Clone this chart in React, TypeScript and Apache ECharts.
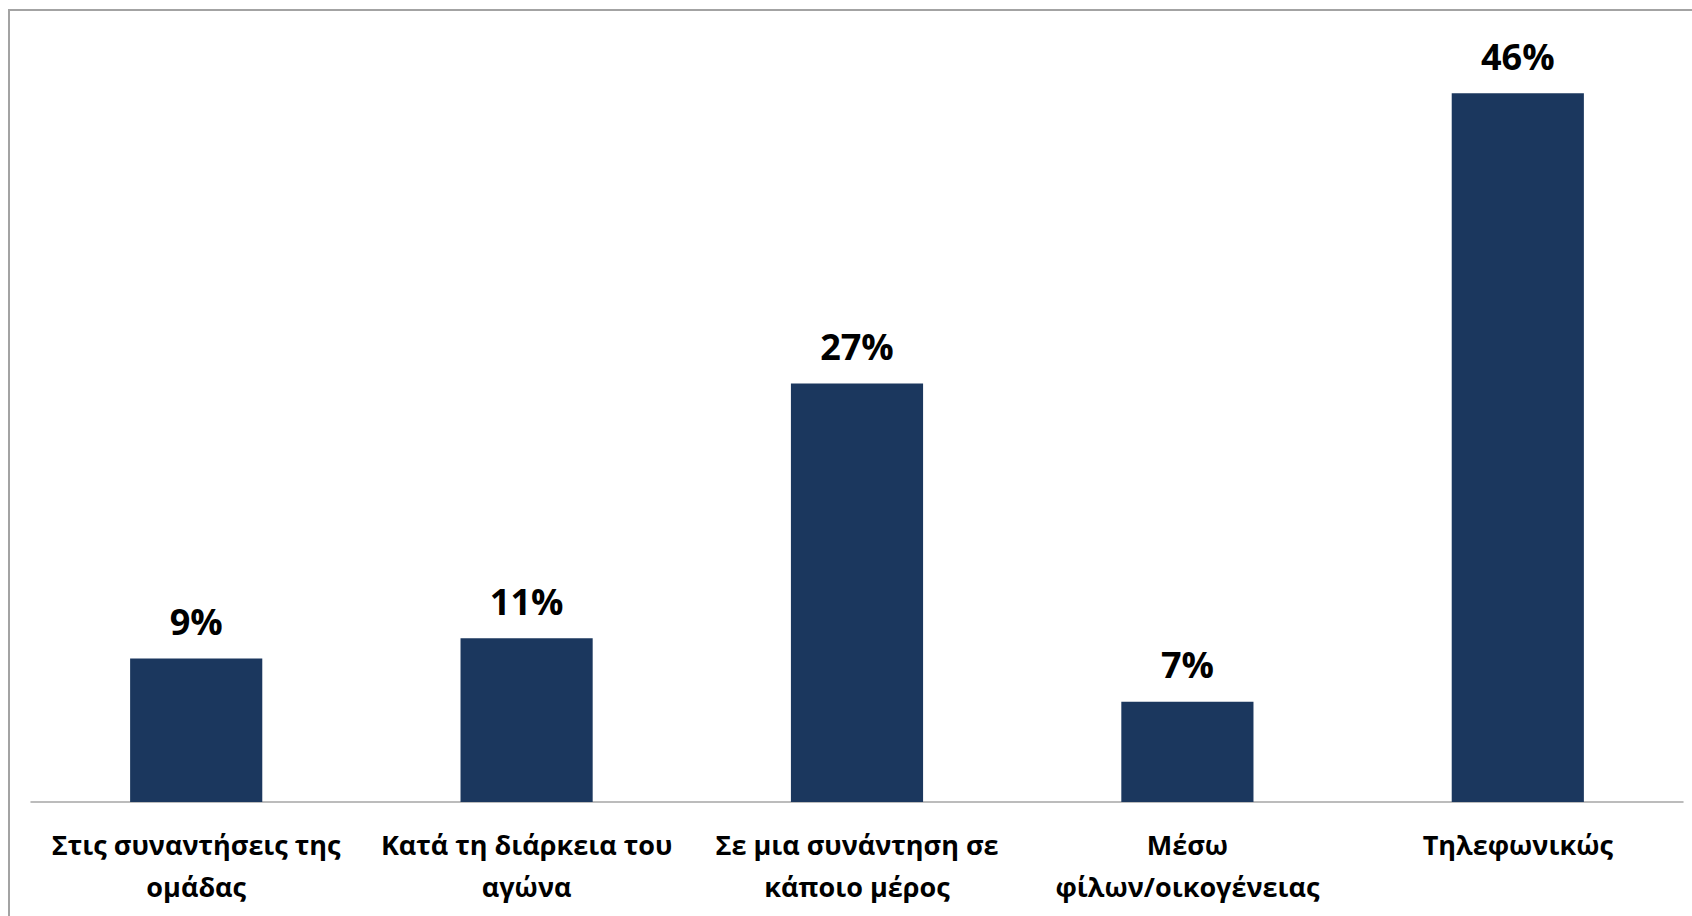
import React, { useEffect, useRef } from "react";
import * as echarts from "echarts";

const categories: string[] = [
  "Στις συναντήσεις της\nομάδας",
  "Κατά τη διάρκεια του\nαγώνα",
  "Σε μια συνάντηση σε\nκάποιο μέρος",
  "Μέσω\nφίλων/οικογένειας",
  "Τηλεφωνικώς",
];
const values: number[] = [9.3, 10.6, 27.1, 6.5, 45.9];

export default function App() {
  const ref = useRef<HTMLDivElement>(null);
  useEffect(() => {
    if (!ref.current) return;
    const chart = echarts.init(ref.current, null, { renderer: "svg" });
    chart.setOption({
      animation: false,
      backgroundColor: "#ffffff",
      grid: { left: 31, right: 9, top: 30, bottom: 114, containLabel: false },
      graphic: [
        {
          type: "rect",
          shape: { x: 9, y: 10, width: 1700, height: 1000 },
          style: { fill: "none", stroke: "#a3a3a3", lineWidth: 2 },
          silent: true,
        },
      ],
      xAxis: {
        type: "category",
        data: categories,
        axisLine: { show: true, lineStyle: { color: "#a6a6a6", width: 1.5 } },
        axisTick: { show: false },
        axisLabel: {
          interval: 0,
          color: "#000000",
          fontFamily: "'Open Sans', 'Noto Sans', sans-serif",
          fontWeight: "bold",
          fontSize: 27,
          lineHeight: 42,
          margin: 21,
        },
      },
      yAxis: {
        type: "value",
        min: 0,
        max: 50,
        show: false,
        splitLine: { show: false },
      },
      series: [
        {
          type: "bar",
          data: values,
          barWidth: "40%",
          itemStyle: { color: "#1b375e" },
          label: {
            show: true,
            position: "top",
            distance: 19,
            color: "#000000",
            fontFamily: "'Open Sans', 'Noto Sans', sans-serif",
            fontWeight: "bold",
            fontSize: 36,
            formatter: (p: any) => Math.round(p.value) + "%",
          },
        },
      ],
    });
    return () => chart.dispose();
  }, []);
  return (
    <div
      ref={ref}
      style={{ position: "fixed", left: 0, top: 0, width: "1692px", height: "916px" }}
    />
  );
}
